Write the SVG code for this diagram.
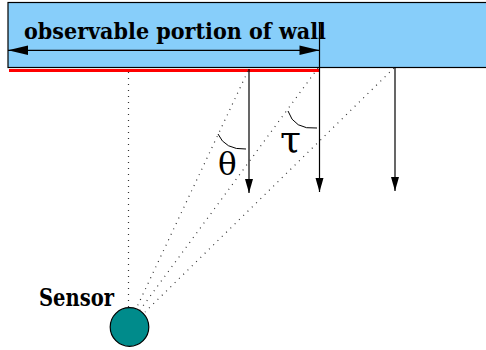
<svg xmlns="http://www.w3.org/2000/svg" width="486" height="350" viewBox="0 0 486 350">
<style>
.dot{stroke:#333;stroke-width:1.2;stroke-dasharray:1 5;fill:none}
.arr{stroke:#000;stroke-width:1.2;fill:none}
.arc{stroke:#000;stroke-width:1;fill:none}
</style>
<defs>
<marker id="hv" markerUnits="userSpaceOnUse" markerWidth="16" markerHeight="10" refX="14" refY="4" orient="auto" overflow="visible">
<path d="M0,0 L14,4 L0,8 Z" fill="#000"/>
</marker>
<marker id="hh" markerUnits="userSpaceOnUse" markerWidth="22" markerHeight="10" refX="20" refY="4.7" orient="auto-start-reverse" overflow="visible">
<path d="M0,0 L20,4.7 L0,9.4 Z" fill="#000"/>
</marker>
</defs>
<g id="wall">
<rect x="8" y="2.5" width="490" height="65" fill="#87CEFA" stroke="#000" stroke-width="1.2"/>
<line x1="9" y1="70.5" x2="319.5" y2="70.5" stroke="#FF0000" stroke-width="3"/>
<text x="24" y="38.5" font-family="DejaVu Serif, serif" font-weight="bold" font-size="23" textLength="302" lengthAdjust="spacingAndGlyphs">observable portion of wall</text>
</g>
<g id="sensor">
<circle cx="129.5" cy="327" r="19.3" fill="#008B8B" stroke="#000" stroke-width="1.2"/>
<text x="39" y="305.5" font-family="DejaVu Serif, serif" font-weight="bold" font-size="24" textLength="75" lengthAdjust="spacingAndGlyphs">Sensor</text>
</g>
<g id="angles">
<path class="arc" d="M218 134 Q225 150 246 149"/>
<path class="arc" d="M288 111 Q294 130 317 128"/>
<text x="218" y="175" font-family="DejaVu Serif, serif" font-size="31">θ</text>
<text x="280" y="152" font-family="DejaVu Serif, serif" font-size="38">τ</text>
</g>
<g id="connectors">
<line class="arr" x1="8" y1="50.3" x2="319.5" y2="50.3" marker-start="url(#hh)" marker-end="url(#hh)"/>
<line class="arr" x1="249" y1="69" x2="249" y2="193" marker-end="url(#hv)"/>
<line class="arr" x1="319.5" y1="22" x2="319.5" y2="192" marker-end="url(#hv)"/>
<line class="arr" x1="395" y1="67.5" x2="395" y2="191" marker-end="url(#hv)"/>
<line class="dot" x1="128.5" y1="72" x2="128.5" y2="307"/>
<line class="dot" x1="248" y1="71" x2="136" y2="309"/>
<line class="dot" x1="318" y1="68" x2="140" y2="310"/>
<line class="dot" x1="394" y1="68" x2="145" y2="312"/>
</g>
</svg>
